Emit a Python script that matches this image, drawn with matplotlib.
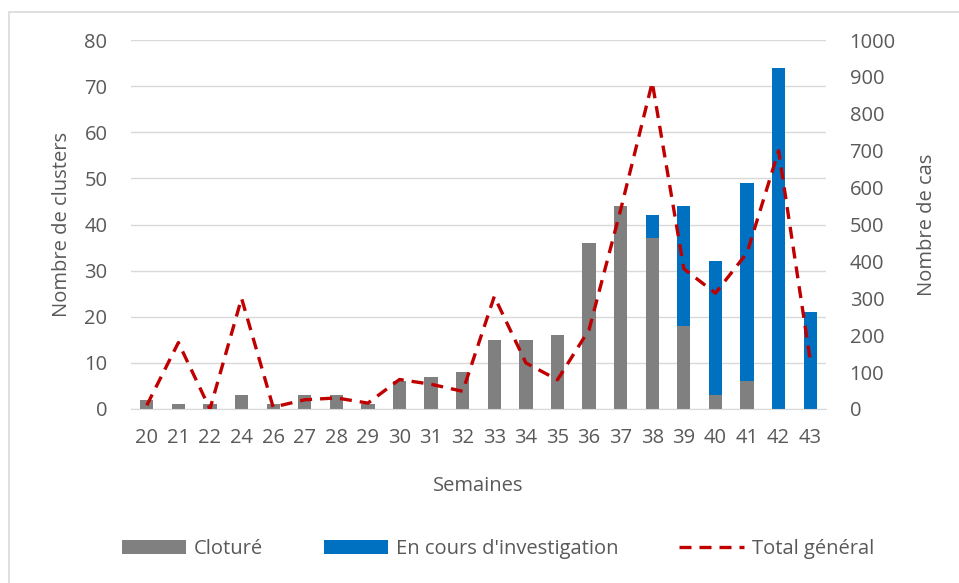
import matplotlib
matplotlib.use("Agg")
import matplotlib.pyplot as plt
from matplotlib.patches import Rectangle, Patch
from matplotlib.lines import Line2D
import numpy as np

plt.rcParams["font.family"] = ["Open Sans", "DejaVu Sans"]

semaines = ["20", "21", "22", "24", "26", "27", "28", "29", "30", "31", "32", "33",
            "34", "35", "36", "37", "38", "39", "40", "41", "42", "43"]
cloture = [2, 1, 1, 3, 1, 3, 3, 1, 6, 7, 8, 15, 15, 16, 36, 44, 37, 18, 3, 6, 0, 0]
en_cours = [0, 0, 0, 0, 0, 0, 0, 0, 0, 0, 0, 0, 0, 0, 0, 0, 5, 26, 29, 43, 74, 21]
total_cas = [10, 180, 0, 300, 5, 25, 30, 16, 80, 67, 48, 305, 125, 79, 215, 540,
             885, 380, 314, 423, 700, 133]

GRAY = "#808080"
BLUE = "#0070C0"
RED = "#C00000"
TXT = "#595959"
GRID = "#D9D9D9"
FS = 14.5

fig = plt.figure(figsize=(9.59, 5.83), dpi=100)
ax = fig.add_axes([131 / 959, 1 - 409 / 583, 695 / 959, 369 / 583])
x = np.arange(len(semaines))

ax.bar(x, cloture, width=0.42, color=GRAY, zorder=2)
ax.bar(x, en_cours, width=0.42, bottom=cloture, color=BLUE, zorder=2)
ax.set_xlim(-0.5, len(semaines) - 0.5)
ax.set_ylim(0, 80)
ax.set_yticks(range(0, 81, 10))
ax.set_xticks(x)
ax.set_xticklabels(semaines)
ax.yaxis.grid(True, color=GRID, linewidth=1, zorder=0)
ax.set_axisbelow(True)
for side in ["top", "right", "left"]:
    ax.spines[side].set_visible(False)
ax.spines["bottom"].set_color(GRID)
ax.tick_params(axis="both", length=0, labelsize=FS, colors=TXT)
ax.tick_params(axis="y", pad=17)
ax.tick_params(axis="x", pad=14)
ax.set_ylabel("Nombre de clusters", fontsize=FS, color=TXT, labelpad=9)
ax.set_xlabel("Semaines", fontsize=FS, color=TXT, labelpad=20)

ax2 = ax.twinx()
ax2.plot(x, total_cas, color=RED, linestyle=(0, (3.6, 2.4)), linewidth=2.4, zorder=3)
ax2.set_ylim(0, 1000)
ax2.set_yticks(range(0, 1001, 100))
for side in ["top", "right", "left", "bottom"]:
    ax2.spines[side].set_visible(False)
ax2.tick_params(axis="y", length=0, labelsize=FS, colors=TXT, pad=17)
ax2.set_ylabel("Nombre de cas", fontsize=FS, color=TXT, labelpad=15)

handles = [Patch(facecolor=GRAY), Patch(facecolor=BLUE),
           Line2D([0], [0], color=RED, linestyle=(0, (3.6, 2.4)), linewidth=2.4)]
labels = ["Cloturé", "En cours d'investigation", "Total général"]
leg = fig.legend(handles, labels, loc="center", bbox_to_anchor=(0.519, 1 - 549 / 583),
                 ncol=3, frameon=False, fontsize=FS, handlelength=3.2,
                 handleheight=0.63, columnspacing=3.0, handletextpad=0.4)
for t in leg.get_texts():
    t.set_color(TXT)

fig.patches.append(Rectangle((9 / 959, -0.1), 1.2, 1 - 12 / 583 + 0.1,
                             transform=fig.transFigure, fill=False,
                             edgecolor=GRID, linewidth=1.2))

fig.savefig("out.png", dpi=100)
